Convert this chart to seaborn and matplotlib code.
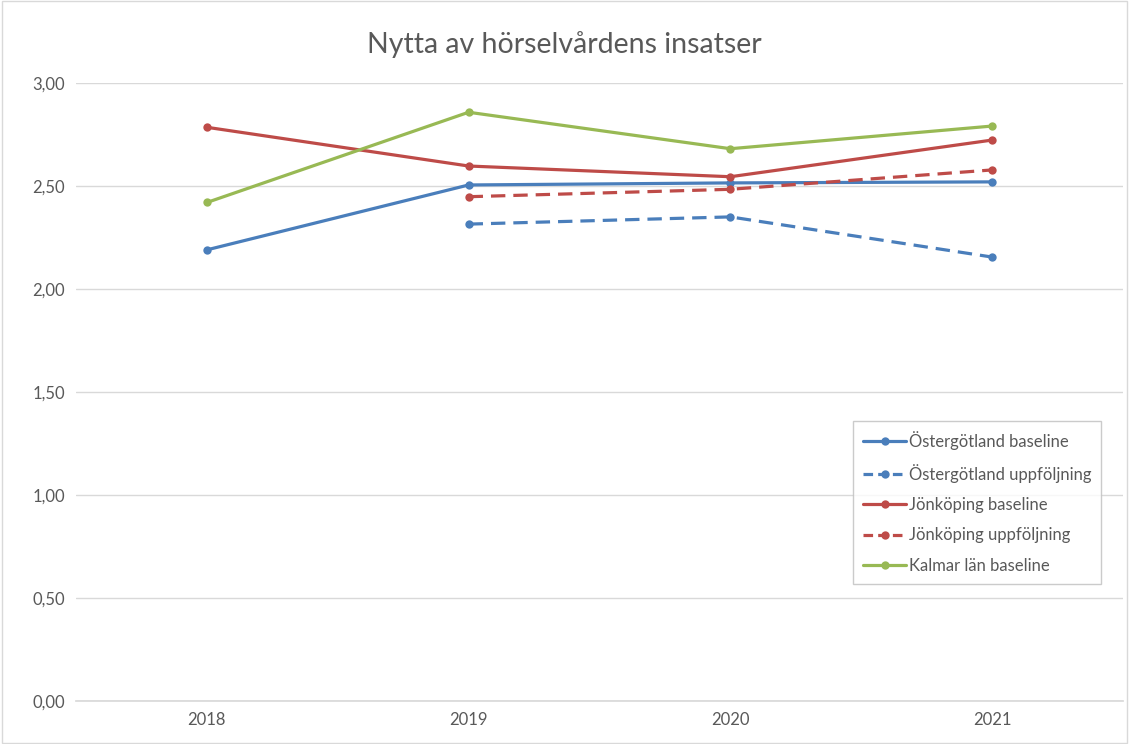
import numpy as np
import pandas as pd
import matplotlib
matplotlib.use("Agg")
import matplotlib.pyplot as plt
import seaborn as sns
from matplotlib.ticker import FuncFormatter
from matplotlib.patches import Rectangle
from matplotlib.lines import Line2D

years = [2018, 2019, 2020, 2021]
years_follow = [2019, 2020, 2021]

ost_baseline = [2.19, 2.505, 2.515, 2.52]
ost_uppfoljning = [2.315, 2.35, 2.155]
jon_baseline = [2.785, 2.597, 2.545, 2.723]
jon_uppfoljning = [2.448, 2.484, 2.578]
kalmar_baseline = [2.42, 2.858, 2.681, 2.791]

blue = "#4A7EBB"
red = "#BE4B48"
green = "#98B954"
DASH = [4.5, 2.5]

sns.set_theme(style="white")
plt.rcParams["font.family"] = ["Lato", "DejaVu Sans"]

fig = plt.figure(figsize=(11.29, 7.44), dpi=100)
ax = fig.add_axes([76 / 1129, 43 / 744, 1047 / 1129, 618 / 744])

series = [
    ("Östergötland baseline", years, ost_baseline, blue, False),
    ("Östergötland uppföljning", years_follow, ost_uppfoljning, blue, True),
    ("Jönköping baseline", years, jon_baseline, red, False),
    ("Jönköping uppföljning", years_follow, jon_uppfoljning, red, True),
    ("Kalmar län baseline", years, kalmar_baseline, green, False),
]

handles = []
for name, xs, ys, col, dashed in series:
    df = pd.DataFrame({"year": xs, "value": ys})
    sns.lineplot(data=df, x="year", y="value", ax=ax, color=col,
                 marker="o", markersize=6, markeredgewidth=0,
                 linewidth=2.3, legend=False)
    if dashed:
        ax.lines[-1].set_dashes(DASH)
    h = Line2D([], [], color=col, linewidth=2.3, marker="o", markersize=6,
               markeredgewidth=0)
    if dashed:
        h.set_dashes([3, 1.6])
    handles.append((h, name))

ax.set_xlim(2017.5, 2021.5)
ax.set_ylim(0, 3.0)
ax.set_xticks(years)
ax.set_yticks(np.arange(0, 3.01, 0.5))
ax.yaxis.set_major_formatter(FuncFormatter(lambda v, p: f"{v:.2f}".replace(".", ",")))
ax.set_xlabel("")
ax.set_ylabel("")
ax.grid(axis="y", color="#D9D9D9", linewidth=1)
ax.set_axisbelow(True)
for s in ["top", "right", "left"]:
    ax.spines[s].set_visible(False)
ax.spines["bottom"].set_color("#D9D9D9")
ax.tick_params(axis="both", length=0, labelsize=12, colors="#595959", pad=8)

fig.text(0.5, 1 - 45 / 744, "Nytta av hörselvårdens insatser", ha="center",
         va="center", fontsize=20.5, color="#595959")

leg = ax.legend([h for h, _ in handles], [n for _, n in handles],
                loc="upper left", bbox_to_anchor=((853 - 76) / 1047, (701 - 421) / 618),
                frameon=True, fancybox=False, fontsize=12, handlelength=2.6,
                numpoints=1, labelspacing=0.85, borderpad=0.6, handletextpad=0.15,
                borderaxespad=0)
leg.get_frame().set_edgecolor("#BFBFBF")
leg.get_frame().set_linewidth(1)
for t in leg.get_texts():
    t.set_color("#595959")

fig.patches.append(Rectangle((0.002, 0.002), 0.996, 0.996, transform=fig.transFigure,
                             fill=False, edgecolor="#D9D9D9", linewidth=1))

fig.savefig("out.png", dpi=100)
